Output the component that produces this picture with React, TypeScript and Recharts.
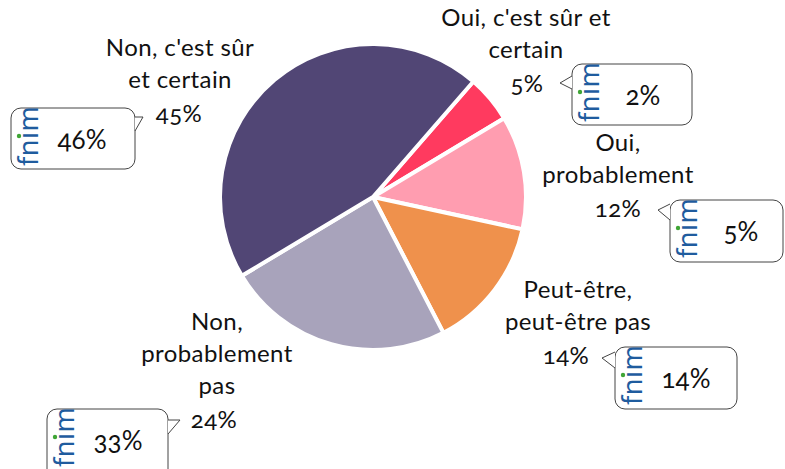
import { Cell, Pie, PieChart } from "recharts";

const categories = [
  "Oui, c'est sûr et certain",
  "Oui, probablement",
  "Peut-être, peut-être pas",
  "Non, probablement pas",
  "Non, c'est sûr et certain",
];
const values = [5, 12, 14, 24, 45];
const compareValues = [2, 5, 14, 33, 46];
const colors = ["#FF3A5F", "#FF9DB0", "#EF914C", "#A8A3BB", "#514675"];

const labelLines = [
  ["Oui, c'est sûr et", "certain"],
  ["Oui,", "probablement"],
  ["Peut-être,", "peut-être pas"],
  ["Non,", "probablement", "pas"],
  ["Non, c'est sûr", "et certain"],
];
const labelAnchors = [
  { x: 526, y: 26, px: 527 },
  { x: 618, y: 151, px: 618 },
  { x: 578, y: 298, px: 566 },
  { x: 217, y: 330, px: 214 },
  { x: 180, y: 56, px: 179 },
];

// callout boxes: x, y, w, h and tail (base1, tip, base2)
const callouts = [
  { x: 572, y: 64, w: 120, h: 61, tail: [[572, 76], [560, 83], [572, 89]] },
  { x: 670, y: 200, w: 113, h: 62, tail: [[670, 204], [658, 210], [670, 220]] },
  { x: 615, y: 347, w: 122, h: 62, tail: [[615, 352], [602, 358], [615, 368]] },
  { x: 47, y: 409, w: 121, h: 70, tail: [[168, 420], [180, 420], [168, 434]] },
  { x: 11, y: 108, w: 124, h: 61, tail: [[135, 117], [143, 117], [135, 131]] },
];

const data = categories.map((name, i) => ({ name, value: values[i] }));
const font = "Lato, 'Open Sans', sans-serif";

function Logo({ x, y }: { x: number; y: number }) {
  return (
    <g transform={`translate(${x},${y}) rotate(-90)`}>
      <text x={0} y={0} fontFamily="'Noto Sans', sans-serif" fontSize={27} letterSpacing={0.5} fill="#1F5C9E">
        fnım
      </text>
      <circle cx={30} cy={-19} r={2.2} fill="#3FA535" />
    </g>
  );
}

export default function App() {
  return (
    <div style={{ position: "relative", width: 785, height: 469, background: "#fff", overflow: "hidden" }}>
      <style>{`body{margin:0}`}</style>
      <PieChart width={785} height={469} margin={{ top: 0, right: 0, bottom: 0, left: 0 }}>
        <Pie
          data={data}
          dataKey="value"
          cx={373}
          cy={197}
          outerRadius={153}
          startAngle={49}
          endAngle={-311}
          stroke="#fff"
          strokeWidth={4}
          isAnimationActive={false}
        >
          {data.map((d, i) => (
            <Cell key={d.name} fill={colors[i]} />
          ))}
        </Pie>
      </PieChart>
      <svg width={785} height={469} style={{ position: "absolute", left: 0, top: 0, pointerEvents: "none" }}>
        {labelLines.map((lines, i) => (
          <text
            key={i}
            x={labelAnchors[i].x}
            y={labelAnchors[i].y}
            textAnchor="middle"
            fontFamily={font}
            fontSize={24}
            letterSpacing={0.4}
            fill="#111"
            style={{ fontVariantNumeric: "oldstyle-nums" }}
          >
            {lines.map((l, j) => (
              <tspan key={j} x={labelAnchors[i].x} dy={j === 0 ? 0 : 32}>
                {l}
              </tspan>
            ))}
            <tspan x={labelAnchors[i].px} dy={34}>
              {values[i]}%
            </tspan>
          </text>
        ))}
        {callouts.map((c, i) => {
          const [a, t, b] = c.tail;
          return (
            <g key={i}>
              <rect x={c.x} y={c.y} width={c.w} height={c.h} rx={10} fill="#fff" stroke="#444" strokeWidth={1} />
              <polygon points={`${a[0]},${a[1]} ${t[0]},${t[1]} ${b[0]},${b[1]}`} fill="#fff" stroke="none" />
              <polyline points={`${a[0]},${a[1]} ${t[0]},${t[1]} ${b[0]},${b[1]}`} fill="none" stroke="#444" strokeWidth={1} />
              <Logo x={c.x + 27} y={c.y + 58} />
              <text
                x={c.x + 71}
                y={c.y + 41}
                textAnchor="middle"
                fontFamily={font}
                fontSize={26}
                fill="#111"
                style={{ fontVariantNumeric: "oldstyle-nums" }}
              >
                {compareValues[i]}%
              </text>
            </g>
          );
        })}
      </svg>
    </div>
  );
}
